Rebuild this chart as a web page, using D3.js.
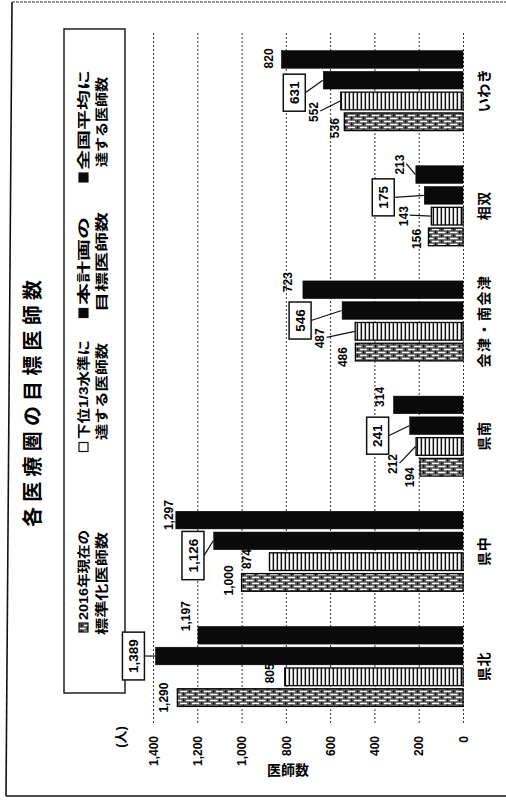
<!DOCTYPE html>
<html><head><meta charset="utf-8">
<script src="https://cdn.jsdelivr.net/npm/d3@7"></script>
<style>
html,body{margin:0;padding:0;background:#fff;}
svg{display:block;}
text{font-family:"Liberation Sans","Noto Sans CJK JP",sans-serif;fill:#000;}
</style></head><body>
<svg id="chart" width="506" height="801"></svg>
<script>
// ---- data ----
const categories = ["県北","県中","県南","会津・南会津","相双","いわき"];
const seriesNames = ["2016年現在の標準化医師数","下位1/3水準に達する医師数","本計画の目標医師数","全国平均に達する医師数"];
const doctors2016 = [1290,1000,194,486,156,536];
const lowerThird  = [805,874,212,487,143,552];
const planTarget  = [1389,1126,241,546,175,631];
const nationalAvg = [1197,1297,314,723,213,820];
const tickValues = [0,200,400,600,800,1000,1200,1400];
const tickLabels = ["0","200","400","600","800","1,000","1,200","1,400"];
const legendLines = [["2016年現在の","標準化医師数"],["下位1/3水準に","達する医師数"],["本計画の","目標医師数"],["全国平均に","達する医師数"]];
const titleText = "各医療圏の目標医師数";

// ---- layout (label offsets from bar end: [dx, dy, leader]) ----
const labelOffsets = [
  [[-13.5,0,0],[-13,-2,0],[-10.5,10,0],[-13,5,0],[-12,2,0],[-9.5,6.4,0]],
  [[-15,-3.5,0],[-22.5,-2.6,0],[-23,17.6,1],[-35,7,1],[-28,0,1],[-27,11,1]],
  [[-22,0,1],[-20.7,14.7,1],[-32,10,1],[-42,10,1],[-41,2,1],[-29,12.5,1]],
  [[-12.5,-19,0],[-7.5,-5,0],[-14,-8,0],[-15.5,-7.6,0],[-16,-10,1],[-13,-1,0]]
];
const legendLayout = [
  {icon:627.5, s1:620, l1:90,  s2:635, l2:103},
  {icon:447,   s1:439, l1:99,  s2:440, l2:97},
  {icon:313,   s1:305, l1:88,  s2:312, l2:100},
  {icon:177.5, s1:170, l1:100, s2:167, l2:90}
];

const svg = d3.select("#chart");
const fmt = d3.format(",");
const seriesData = [doctors2016, lowerThird, planTarget, nationalAvg];

const x = d3.scaleLinear().domain([0,1400]).range([463,153]);
const y = d3.scaleBand().domain(categories).range([724,33]);
const inner = d3.scaleBand().domain(d3.range(seriesData.length)).range([40,-40]).paddingInner(0.15);

// patterns
const defs = svg.append("defs");
const pS = defs.append("pattern").attr("id","stripe").attr("patternUnits","userSpaceOnUse").attr("width",4).attr("height",8);
pS.append("rect").attr("width",4).attr("height",8).attr("fill","#fff");
pS.append("rect").attr("x",0.6).attr("width",1.5).attr("height",8).attr("fill","#111");
const pB = defs.append("pattern").attr("id","brick").attr("patternUnits","userSpaceOnUse").attr("width",12).attr("height",6);
pB.append("rect").attr("width",12).attr("height",6).attr("fill","#5a5a5a");
pB.append("rect").attr("x",0).attr("y",0.8).attr("width",7).attr("height",1.4).attr("fill","#fff");
pB.append("rect").attr("x",6).attr("y",3.8).attr("width",6).attr("height",1.4).attr("fill","#fff");
pB.append("rect").attr("x",0).attr("y",3.8).attr("width",1.5).attr("height",1.4).attr("fill","#fff");
pB.append("rect").attr("x",9).attr("y",0).attr("width",1.2).attr("height",3).attr("fill","#111");
pB.append("rect").attr("x",3).attr("y",2.6).attr("width",1.2).attr("height",3).attr("fill","#111");
const fills = ["url(#brick)","url(#stripe)","#0a0a0a","#0a0a0a"];

// frame
svg.append("path").attr("d","M12,2 L6,796").attr("stroke","#111").attr("stroke-width",1.6).attr("fill","none");
svg.append("path").attr("d","M6,796 L506,796").attr("stroke","#111").attr("stroke-width",1.6).attr("fill","none");
svg.append("path").attr("d","M12,2 L506,2").attr("stroke","#333").attr("stroke-width",1.2).attr("stroke-dasharray","3,1").attr("fill","none");

// title
svg.append("text").attr("transform","translate(33,403.5) rotate(-90)")
  .attr("text-anchor","middle").attr("dy","0.35em").attr("font-size",20).attr("font-weight","bold")
  .attr("textLength",247).attr("lengthAdjust","spacing").text(titleText);

// legend
svg.append("rect").attr("x",64).attr("y",29).attr("width",61).attr("height",664)
  .attr("fill","none").attr("stroke","#111").attr("stroke-width",1.4);
legendLayout.forEach((L,i)=>{
  const ic = svg.append("rect").attr("x",79).attr("y",L.icon-4.5).attr("width",9).attr("height",9)
    .attr("stroke","#111").attr("stroke-width",1.2);
  ic.attr("fill", i===0 ? "url(#brick)" : i===1 ? "#fff" : "#0a0a0a");
  svg.append("text").attr("transform",`translate(83,${L.s1}) rotate(-90)`).attr("dy","0.35em")
    .attr("font-size",13).attr("font-weight","bold").attr("textLength",L.l1).attr("lengthAdjust","spacingAndGlyphs")
    .text(legendLines[i][0]);
  svg.append("text").attr("transform",`translate(101,${L.s2}) rotate(-90)`).attr("dy","0.35em")
    .attr("font-size",13).attr("font-weight","bold").attr("textLength",L.l2).attr("lengthAdjust","spacingAndGlyphs")
    .text(legendLines[i][1]);
});

// grid + value axis
const axis = d3.axisBottom(x).tickValues(tickValues).tickSize(690).tickFormat((d,i)=>tickLabels[i]);
const ag = svg.append("g").attr("transform","translate(0,33)").call(axis);
ag.attr("font-family",null).attr("font-size",null);
ag.select(".domain").remove();
ag.selectAll(".tick line").attr("stroke","#333").attr("stroke-width",1).attr("stroke-dasharray","2,2");
ag.selectAll(".tick text").attr("y",null).attr("dy","0.35em")
  .attr("transform","translate(0,703) rotate(-90)").attr("text-anchor","end")
  .attr("font-size",12).attr("font-weight","bold").attr("fill","#000");

svg.append("text").attr("transform","translate(120,737) rotate(-90)").attr("text-anchor","middle")
  .attr("dy","0.35em").attr("font-size",13).attr("font-weight","bold").text("(人)");
svg.append("text").attr("x",288).attr("y",775).attr("text-anchor","middle")
  .attr("font-size",14).attr("font-weight","bold").text("医師数");

// bars
seriesData.forEach((vals,s)=>{
  svg.append("g").selectAll("rect").data(vals).join("rect")
    .attr("x",d=>x(d))
    .attr("y",(d,i)=>y(categories[i])+y.bandwidth()/2+inner(s))
    .attr("width",d=>x(0)-x(d))
    .attr("height",inner.bandwidth())
    .attr("fill",fills[s])
    .attr("stroke","#000").attr("stroke-width",s<2?1.3:0.5);
});

// category labels
svg.append("g").selectAll("text").data(categories).join("text")
  .attr("transform",d=>`translate(484,${y(d)+y.bandwidth()/2}) rotate(-90)`)
  .attr("text-anchor","middle").attr("dy","0.35em").attr("font-size",14).attr("font-weight","bold")
  .attr("letter-spacing",d=>d.length>3?1.5:0.5)
  .text(d=>d);

// value labels
seriesData.forEach((vals,s)=>{
  vals.forEach((v,i)=>{
    const bx = x(v);
    const by = y(categories[i])+y.bandwidth()/2+inner(s)+inner.bandwidth()/2;
    const [dx,dy,leader] = labelOffsets[s][i];
    const lx = bx+dx, ly = by+dy;
    const boxed = s===2;
    if(leader){
      svg.append("line").attr("x1",lx+(boxed?11:6.5)).attr("y1",ly+(boxed?0:-1))
        .attr("x2",bx-0.5).attr("y2",by).attr("stroke","#111").attr("stroke-width",1.2);
    }
    const g = svg.append("g").attr("transform",`translate(${lx},${ly}) rotate(-90)`);
    const t = g.append("text").attr("text-anchor","middle").attr("dy","0.35em")
      .attr("font-size",boxed?13.5:12).attr("font-weight","bold").text(fmt(v));
    if(boxed){
      const bb = t.node().getBBox();
      g.insert("rect","text").attr("x",-bb.width/2-7).attr("y",-11).attr("width",bb.width+14).attr("height",22)
        .attr("fill","#fff").attr("stroke","#111").attr("stroke-width",1.5);
    }
  });
});
</script>
</body></html>
